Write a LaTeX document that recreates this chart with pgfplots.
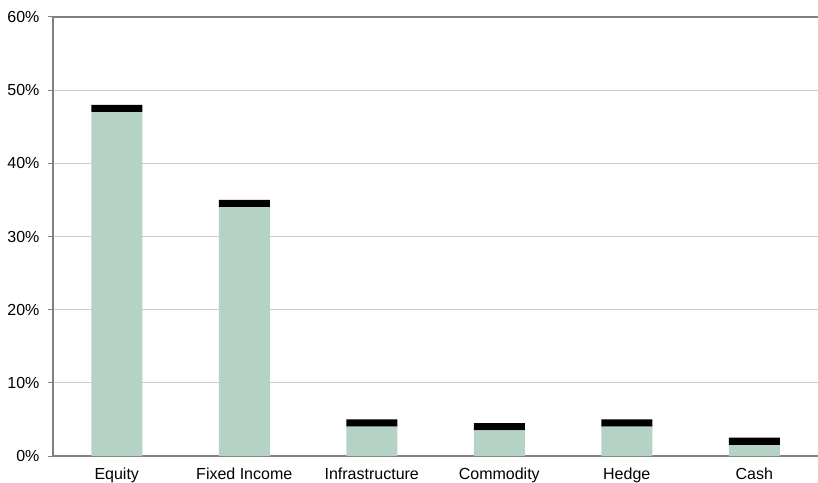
\documentclass[border=0pt]{standalone}
\usepackage{pgfplots}
\pgfplotsset{compat=1.18}
\usepackage{fontspec}
\setmainfont{Liberation Sans}
\definecolor{barGreen}{RGB}{181,211,197}
\definecolor{axGray}{RGB}{128,128,128}
\definecolor{gridGray}{RGB}{204,204,204}
\begin{document}
\fontsize{16bp}{19bp}\selectfont
\begin{tikzpicture}
\begin{axis}[
  scale only axis,
  width=765bp, height=439bp,
  ybar stacked,
  bar width=0.4,
  xmin=-0.5, xmax=5.5,
  ymin=0, ymax=60,
  ytick={0,10,...,60},
  yticklabel={\pgfmathprintnumber{\tick}\%},
  /pgf/number format/assume math mode=true,
  xtick={0,...,5},
  xticklabels={Equity,Fixed Income,Infrastructure,Commodity,Hedge,Cash},
  major x tick style={draw=none},
  extra x ticks={-0.5,0.5,1.5,2.5,3.5,4.5,5.5},
  extra x tick labels={},
  extra x tick style={tick style={draw=axGray, line width=1bp}, grid=none},
  axis x line=box,
  axis y line=left,
  xtick pos=bottom,
  ytick pos=left,
  tick align=outside,
  major tick length=5bp,
  axis line style={draw=axGray, line width=2bp, -},
  y tick style={draw=axGray, line width=1bp},
  ymajorgrids,
  major grid style={draw=gridGray, line width=1.2bp},
  yticklabel style={xshift=-3bp},
  xticklabel style={yshift=-1bp},
  clip=false,
]
\addplot[fill=barGreen, draw=none] coordinates {(0,47) (1,34) (2,4) (3,3.5) (4,4) (5,1.5)};
\addplot[fill=black, draw=none] coordinates {(0,1) (1,1) (2,1) (3,1) (4,1) (5,1)};
\coordinate (sw) at (rel axis cs:0,0);
\coordinate (ne) at (rel axis cs:1,1);
\end{axis}
\pgfresetboundingbox
\useasboundingbox ([xshift=-53bp,yshift=-26bp]sw) rectangle ([yshift=17bp]ne);
\end{tikzpicture}
\end{document}
